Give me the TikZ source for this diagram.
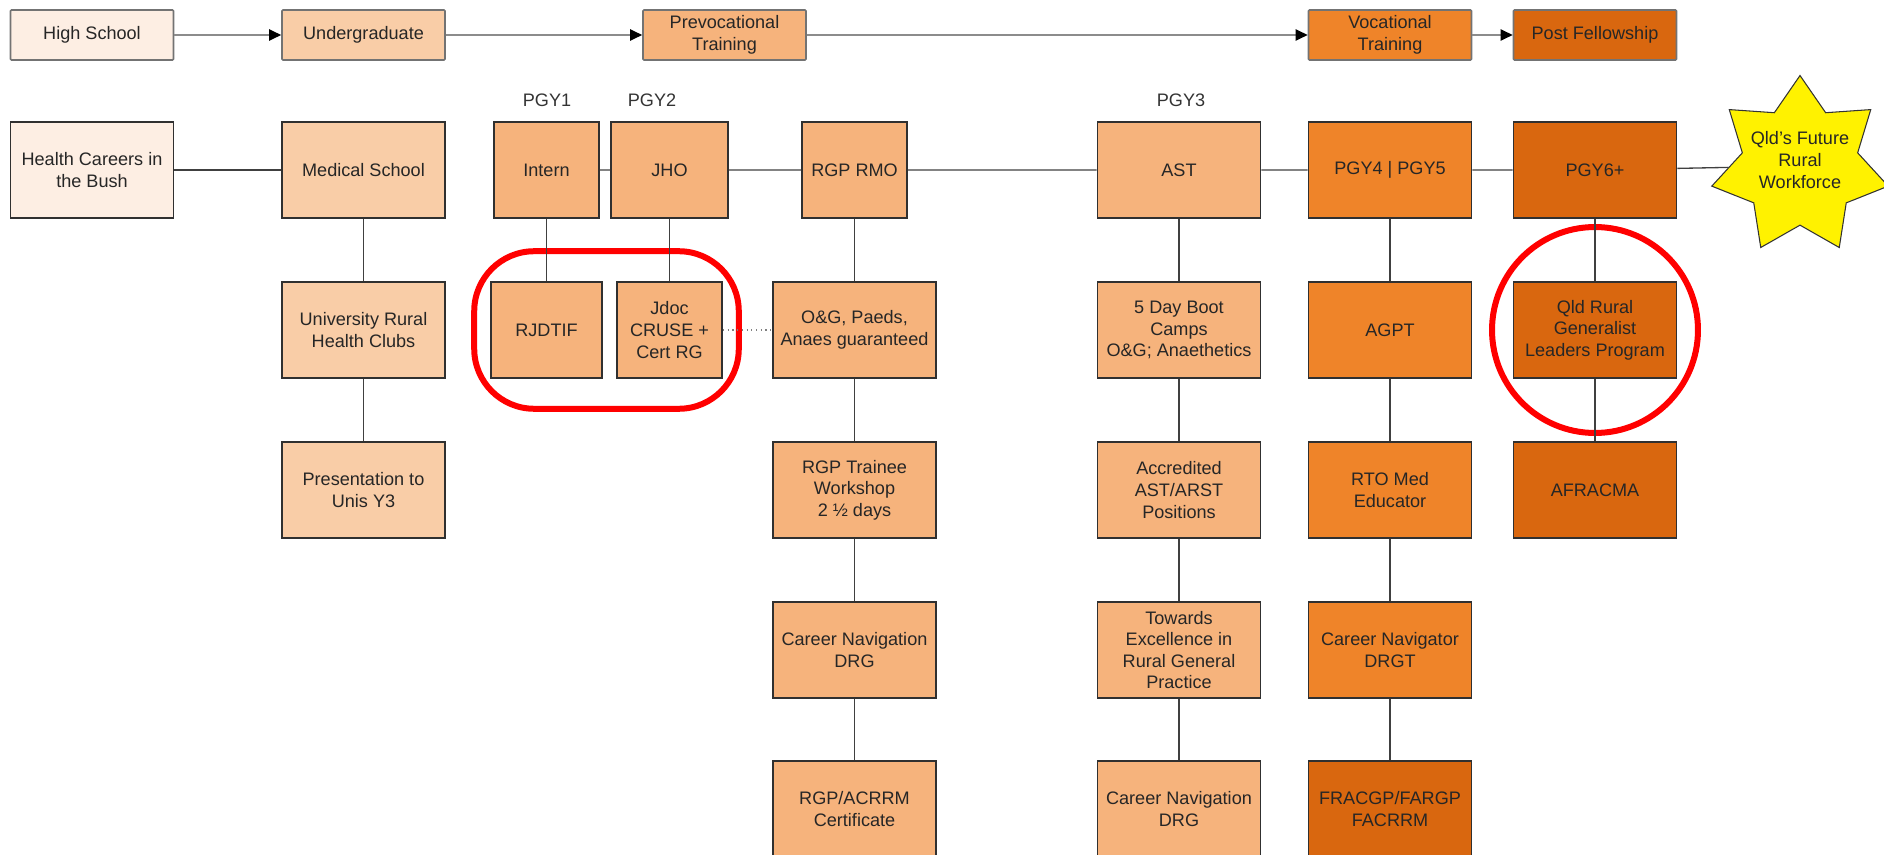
\documentclass[tikz,border=0pt]{standalone}
\usepackage{fontspec}
\setmainfont{Liberation Sans}
\usetikzlibrary{arrows.meta,shapes.geometric,fit}
\definecolor{pale}{HTML}{FDEEE3}
\definecolor{peach}{HTML}{F9CDA7}
\definecolor{apricot}{HTML}{F6B37C}
\definecolor{amber}{HTML}{EF8429}
\definecolor{rust}{HTML}{D9670F}
\definecolor{edge}{HTML}{303030}

\begin{document}
\begin{tikzpicture}[x=0.02cm,y=-0.02cm,
  font=\fontsize{10.3}{12.3}\selectfont,
  stage/.style={draw=black!55, line width=0.9pt, rounded corners=0.6pt, minimum width=3.26cm, minimum height=1cm, inner sep=0pt, align=center, text=black!85},
  box/.style={draw=edge, line width=0.9pt, minimum width=3.26cm, minimum height=1.92cm, inner sep=0pt, align=center, text=black!85},
  link/.style={draw=black!75, line width=0.75pt},
  flow/.style={draw=black!45, line width=1.1pt, -{Triangle[length=0.24cm, width=0.22cm, color=black]}},
  halo/.style={draw=red, line width=0.12cm}]
\useasboundingbox (0,0) rectangle (1884,855);
\clip (0,0) rectangle (1884,855);

\node[stage, fill=pale] (hs) at (92,35) {High School};
\node[stage, fill=peach] (ug) at (363.5,35) {Undergraduate};
\node[stage, fill=apricot] (prev) at (724.5,35) {Prevocational\\Training};
\node[stage, fill=amber] (voc) at (1390,35) {Vocational\\Training};
\node[stage, fill=rust] (post) at (1595,35) {Post Fellowship};

\node[text=black!80] (pgy1) at (547,100) {PGY1};
\node[text=black!80] (pgy2) at (652,100) {PGY2};
\node[text=black!80] (pgy3) at (1181,100) {PGY3};

\node[box, fill=pale] (hcb) at (92,170) {Health Careers in\\the Bush};
\node[box, fill=peach] (med) at (363.5,170) {Medical School};
\node[box, fill=peach] (urhc) at (363.5,330) {University Rural\\Health Clubs};
\node[box, fill=peach] (pres) at (363.5,490) {Presentation to\\Unis Y3};

\node[box, fill=apricot, minimum width=2.1cm] (intern) at (546.5,170) {Intern};
\node[box, fill=apricot, minimum width=2.34cm] (jho) at (669.5,170) {JHO};
\node[box, fill=apricot, minimum width=2.22cm] (rjdtif) at (546.5,330) {RJDTIF};
\node[box, fill=apricot, minimum width=2.1cm] (jdoc) at (669.5,330) {Jdoc\\CRUSE +\\Cert RG};

\node[box, fill=apricot, minimum width=2.1cm] (rmo) at (854.5,170) {RGP RMO};
\node[box, fill=apricot] (og) at (854.5,330) {O\&G, Paeds,\\Anaes guaranteed};
\node[box, fill=apricot] (work) at (854.5,490) {RGP Trainee\\Workshop\\2 ½ days};
\node[box, fill=apricot] (cnav) at (854.5,650) {Career Navigation\\DRG};
\node[box, fill=apricot] (cert) at (854.5,809) {RGP/ACRRM\\Certificate};

\node[box, fill=apricot] (ast) at (1179,170) {AST};
\node[box, fill=apricot] (boot) at (1179,330) {5 Day Boot\\Camps\\O\&G; Anaethetics};
\node[box, fill=apricot] (accr) at (1179,490) {Accredited\\AST/ARST\\Positions};
\node[box, fill=apricot] (towards) at (1179,650) {Towards\\Excellence in\\Rural General\\Practice};
\node[box, fill=apricot] (cnavb) at (1179,809) {Career Navigation\\DRG};

\node[box, fill=amber] (pgy45) at (1390,170) {PGY4 | PGY5};
\node[box, fill=amber] (agpt) at (1390,330) {AGPT};
\node[box, fill=amber] (rto) at (1390,490) {RTO Med\\Educator};
\node[box, fill=amber] (cnavt) at (1390,650) {Career Navigator\\DRGT};
\node[box, fill=rust] (fracgp) at (1390,809) {FRACGP/FARGP\\FACRRM};

\node[box, fill=rust] (pgy6) at (1595,170) {PGY6+};
\node[box, fill=rust] (qld) at (1595,330) {Qld Rural\\Generalist\\Leaders Program};
\node[box, fill=rust] (afr) at (1595,490) {AFRACMA};

\node[star, star points=7, star point ratio=1.53, draw=black!80, line width=0.6pt, fill=yellow, minimum size=3.62cm, inner sep=0pt] (goal) at (1800,166) {};
\node[align=center, text=black!85] (goaltext) at (1800,160) {Qld's Future\\Rural\\Workforce};

\node[halo, fit=(rjdtif)(jdoc), inner xsep=0.32cm, inner ysep=0.6cm, rounded corners=1.2cm] (ringa) {};
\node[halo, circle, minimum size=4.12cm, inner sep=0pt] (ringb) at (1595,330) {};

\draw[flow] (hs) -- (ug);
\draw[flow] (ug) -- (prev);
\draw[flow] (prev) -- (voc);
\draw[flow] (voc) -- (post);

\draw[link] (hcb) -- (med) (med) -- (urhc) (urhc) -- (pres);
\draw[link] (intern) -- (jho) (jho) -- (rmo) (rmo) -- (ast) (ast) -- (pgy45) (pgy45) -- (pgy6) (pgy6) -- (goal);
\draw[link] (intern) -- (rjdtif) (jho) -- (jdoc);
\draw[link] (rmo) -- (og) (og) -- (work) (work) -- (cnav) (cnav) -- (cert);
\draw[link] (ast) -- (boot) (boot) -- (accr) (accr) -- (towards) (towards) -- (cnavb);
\draw[link] (pgy45) -- (agpt) (agpt) -- (rto) (rto) -- (cnavt) (cnavt) -- (fracgp);
\draw[link] (pgy6) -- (qld) (qld) -- (afr);
\draw[black!50, line width=0.7pt, dotted] (jdoc) -- (og);
\end{tikzpicture}
\end{document}
